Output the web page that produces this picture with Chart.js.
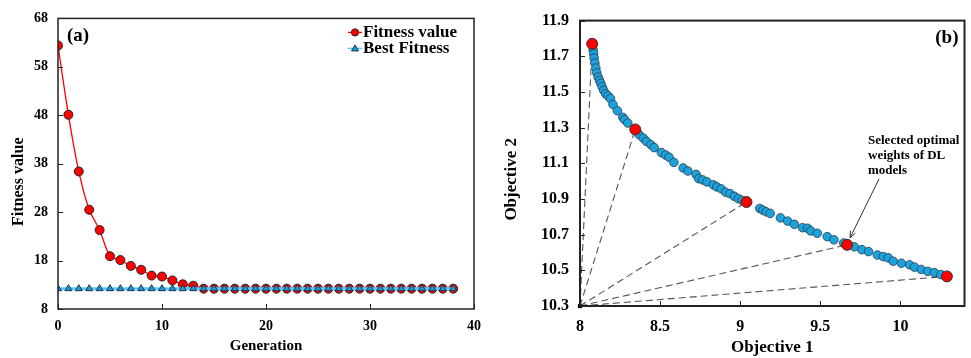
<!DOCTYPE html>
<html><head><meta charset="utf-8">
<script src="https://cdn.jsdelivr.net/npm/chart.js@4/dist/chart.umd.min.js"></script>
<style>
html,body{margin:0;padding:0;background:#fff;}
#wrap{position:relative;width:971px;height:358px;overflow:hidden;background:#fff;}
#c1{position:absolute;left:0;top:0;}
#c2{position:absolute;left:490px;top:0;}
</style></head><body>
<div id="wrap">
<canvas id="c1" width="490" height="358"></canvas>
<canvas id="c2" width="481" height="358"></canvas>
</div>
<script>
// ---------- Panel (a) data ----------
const generations = [0,1,2,3,4,5,6,7,8,9,10,11,12,13,14,15,16,17,18,19,20,21,22,23,24,25,26,27,28,29,30,31,32,33,34,35,36,37,38];
const fitnessValue = [62.4,48.1,36.4,28.5,24.3,18.9,18.1,16.9,16.1,14.9,14.7,13.9,13.1,12.8,12.2,12.2,12.2,12.2,12.2,12.2,12.2,12.2,12.2,12.2,12.2,12.2,12.2,12.2,12.2,12.2,12.2,12.2,12.2,12.2,12.2,12.2,12.2,12.2,12.2];
const bestFitness = [12.2,12.2,12.2,12.2,12.2,12.2,12.2,12.2,12.2,12.2,12.2,12.2,12.2,12.2,12.2,12.2,12.2,12.2,12.2,12.2,12.2,12.2,12.2,12.2,12.2,12.2,12.2,12.2,12.2,12.2,12.2,12.2,12.2,12.2,12.2,12.2,12.2,12.2,12.2];
const genTicks = [0,10,20,30,40];
const fitTicks = [8,18,28,38,48,58,68];

// ---------- Panel (b) data ----------
const paretoObj1 = [8.082,8.085,8.088,8.093,8.099,8.105,8.113,8.122,8.130,8.138,8.148,8.160,8.175,8.190,8.206,8.233,8.267,8.278,8.298,
  8.370,8.395,8.415,8.443,8.463,8.508,8.535,8.556,8.586,8.644,8.673,8.724,8.741,8.765,8.792,8.833,8.854,8.881,8.909,8.936,8.963,8.988,9.012,
  9.122,9.142,9.162,9.187,9.251,9.296,9.338,9.389,9.420,9.440,9.481,9.543,9.585,9.646,
  9.712,9.759,9.801,9.856,9.893,9.924,9.955,10.006,10.057,10.088,10.130,10.171,10.212,10.253];
const paretoObj2 = [11.736,11.714,11.690,11.662,11.634,11.607,11.583,11.564,11.548,11.529,11.509,11.490,11.478,11.463,11.430,11.395,11.358,11.345,11.326,
  11.260,11.241,11.223,11.204,11.188,11.160,11.146,11.134,11.105,11.074,11.057,11.038,11.014,11.007,10.996,10.979,10.968,10.957,10.938,10.930,10.915,10.902,10.892,
  10.847,10.837,10.828,10.819,10.794,10.776,10.758,10.739,10.736,10.721,10.708,10.689,10.671,10.653,
  10.632,10.616,10.605,10.586,10.577,10.570,10.551,10.540,10.531,10.518,10.505,10.494,10.487,10.476];
const selectedObj1 = [8.076,8.345,9.039,9.667,10.290];
const selectedObj2 = [11.770,11.290,10.883,10.643,10.466];
const idealPoint = {x: 8, y: 10.3};
const obj1Ticks = [8,8.5,9,9.5,10];
const obj2Ticks = [10.3,10.5,10.7,10.9,11.1,11.3,11.5,11.7,11.9];
const annotationLines = ['Selected optimal','weights of DL','models'];

const SERIF = "'Liberation Serif','Times New Roman',serif";

// ---------- Plugins ----------
const framePlugin = {
  id: 'frame',
  afterDraw(chart, args, o) {
    const {ctx, chartArea: a, scales} = chart;
    ctx.save();
    ctx.strokeStyle = o.color; ctx.lineWidth = o.width;
    ctx.strokeRect(a.left, a.top, a.right - a.left, a.bottom - a.top);
    ctx.lineWidth = 1;
    ctx.strokeStyle = o.tickColor;
    scales.x.ticks.forEach(t => {
      const px = Math.round(scales.x.getPixelForValue(t.value)) + 0.5;
      ctx.beginPath(); ctx.moveTo(px, a.bottom); ctx.lineTo(px, a.bottom - o.tick); ctx.stroke();
    });
    scales.y.ticks.forEach(t => {
      const py = Math.round(scales.y.getPixelForValue(t.value)) + 0.5;
      ctx.beginPath(); ctx.moveTo(a.left, py); ctx.lineTo(a.left + o.tick, py); ctx.stroke();
    });
    ctx.restore();
  }
};

const panelLabel = {
  id: 'panelLabel',
  afterDraw(chart, args, o) {
    const {ctx, chartArea: a} = chart;
    ctx.save();
    ctx.font = 'bold 19px ' + SERIF;
    ctx.fillStyle = '#000';
    ctx.textBaseline = 'middle';
    if (o.align === 'right') { ctx.textAlign = 'right'; ctx.fillText(o.text, a.right - o.dx, a.top + o.dy); }
    else { ctx.textAlign = 'left'; ctx.fillText(o.text, a.left + o.dx, a.top + o.dy); }
    ctx.restore();
  }
};

// vertical axis title placed where the reference has it
const yTitle = {
  id: 'yTitle',
  afterDraw(chart, args, o) {
    const {ctx, chartArea: a} = chart;
    ctx.save();
    ctx.font = 'bold ' + o.size + 'px ' + SERIF;
    ctx.fillStyle = '#000';
    ctx.textAlign = 'center'; ctx.textBaseline = 'middle';
    ctx.translate(o.x, (a.top + a.bottom) / 2 + o.shift);
    ctx.rotate(-Math.PI / 2);
    ctx.fillText(o.text, 0, 0);
    ctx.restore();
  }
};

const lineLegend = {
  id: 'lineLegend',
  afterDraw(chart, args, o) {
    if (!o.enabled) return;
    const {ctx, chartArea: a} = chart;
    ctx.save();
    ctx.font = 'bold 17px ' + SERIF;
    ctx.textBaseline = 'middle';
    chart.data.datasets.forEach((ds, i) => {
      const y = a.top + o.top + i * o.rowH;
      const x0 = a.right - o.right;
      ctx.strokeStyle = ds.borderColor; ctx.lineWidth = Math.min(ds.borderWidth, 1.5);
      ctx.beginPath(); ctx.moveTo(x0, y); ctx.lineTo(x0 + 14, y); ctx.stroke();
      ctx.fillStyle = ds.pointBackgroundColor; ctx.strokeStyle = ds.pointBorderColor; ctx.lineWidth = 1;
      ctx.beginPath();
      if (ds.pointStyle === 'triangle') {
        ctx.moveTo(x0 + 7, y - 3.5); ctx.lineTo(x0 + 10.5, y + 2.5); ctx.lineTo(x0 + 3.5, y + 2.5); ctx.closePath();
      } else {
        ctx.arc(x0 + 7, y, 3.6, 0, Math.PI * 2);
      }
      ctx.fill(); ctx.stroke();
      ctx.fillStyle = '#000'; ctx.textAlign = 'left';
      ctx.fillText(ds.label, x0 + 15, y);
    });
    ctx.restore();
  }
};

const arrowNote = {
  id: 'arrowNote',
  afterDraw(chart, args, o) {
    if (!o.enabled) return;
    const {ctx, chartArea: a, scales} = chart;
    const px = scales.x.getPixelForValue(selectedObj1[3]);
    const py = scales.y.getPixelForValue(selectedObj2[3]);
    const tip = {x: px + 3, y: py - 7}, tail = {x: px + 32, y: py - 66};
    ctx.save();
    ctx.strokeStyle = '#333'; ctx.lineWidth = 1;
    ctx.beginPath(); ctx.moveTo(tail.x, tail.y); ctx.lineTo(tip.x, tip.y); ctx.stroke();
    const ang = Math.atan2(tip.y - tail.y, tip.x - tail.x);
    ctx.beginPath();
    ctx.moveTo(tip.x - 7 * Math.cos(ang - 0.4), tip.y - 7 * Math.sin(ang - 0.4));
    ctx.lineTo(tip.x, tip.y);
    ctx.lineTo(tip.x - 7 * Math.cos(ang + 0.4), tip.y - 7 * Math.sin(ang + 0.4));
    ctx.stroke();
    ctx.font = 'bold 13px ' + SERIF;
    ctx.fillStyle = '#000'; ctx.textAlign = 'left'; ctx.textBaseline = 'middle';
    annotationLines.forEach((t, i) => ctx.fillText(t, a.left + 288, a.top + 120 + i * 15));
    ctx.restore();
  }
};

Chart.register(framePlugin, panelLabel, yTitle, lineLegend, arrowNote);

function axisFont(size) { return {family: SERIF, size: size, weight: 'bold'}; }
function fmt(v) { return String(+Number(v).toFixed(2)); }

// ---------- Chart (a) ----------
new Chart(document.getElementById('c1'), {
  type: 'line',
  data: {
    datasets: [
      {label: 'Fitness value', data: generations.map((g, i) => ({x: g, y: fitnessValue[i]})),
       borderColor: '#FF0000', borderWidth: 1.3, tension: 0.25, pointRadius: 4.5, pointStyle: 'circle',
       pointBackgroundColor: '#FF0000', pointBorderColor: '#222', pointBorderWidth: 1, order: 1},
      {label: 'Best Fitness', data: generations.map((g, i) => ({x: g, y: bestFitness[i]})),
       borderColor: '#5CC6F2', borderWidth: 3, pointRadius: 4, pointStyle: 'triangle',
       pointBackgroundColor: '#1E9BD7', pointBorderColor: '#1d3550', pointBorderWidth: 1, order: 0}
    ]
  },
  options: {
    responsive: false, animation: false, events: [],
    layout: {padding: {top: 16, right: 12, bottom: 0, left: 0}},
    scales: {
      x: {type: 'linear', min: 0, max: 40,
          afterBuildTicks: s => { s.ticks = genTicks.map(v => ({value: v})); },
          afterFit: s => { s.height = 49; },
          grid: {display: false, drawTicks: false}, border: {display: false},
          ticks: {font: axisFont(14), color: '#000', padding: 9, callback: fmt, maxRotation: 0},
          title: {display: true, text: 'Generation', font: axisFont(15), color: '#000', padding: {top: 0, bottom: 3}}},
      y: {type: 'linear', min: 8, max: 68,
          afterBuildTicks: s => { s.ticks = fitTicks.map(v => ({value: v})); },
          afterFit: s => { s.width = 58; },
          grid: {display: false, drawTicks: false}, border: {display: false},
          ticks: {font: axisFont(14), color: '#000', padding: 10, callback: fmt},
          title: {display: false}}
    },
    plugins: {
      legend: {display: false}, tooltip: {enabled: false},
      frame: {color: '#222', width: 1.5, tickColor: '#222', tick: 5},
      panelLabel: {text: '(a)', align: 'left', dx: 9, dy: 18},
      yTitle: {text: 'Fitness value', size: 16, x: 19, shift: 18},
      lineLegend: {enabled: true, right: 126, top: 14, rowH: 16},
      arrowNote: {enabled: false}
    }
  }
});

// ---------- Chart (b) ----------
const dashDatasets = selectedObj1.map((x, i) => ({
  label: 'link' + i, data: [idealPoint, {x: x, y: selectedObj2[i]}], showLine: true,
  borderColor: '#555', borderWidth: 1.1, borderDash: [7, 4], pointRadius: 0, order: 2
}));

new Chart(document.getElementById('c2'), {
  type: 'scatter',
  data: {
    datasets: [
      {label: 'Selected', data: selectedObj1.map((x, i) => ({x: x, y: selectedObj2[i]})),
       pointRadius: 5.5, backgroundColor: '#FF0000', borderColor: '#333', borderWidth: 1, order: 0},
      {label: 'Pareto front', data: paretoObj1.map((x, i) => ({x: x, y: paretoObj2[i]})),
       pointRadius: 4.3, backgroundColor: '#1CA3DE', borderColor: '#2a3b4a', borderWidth: 0.8, order: 1},
      ...dashDatasets,
      {label: 'Ideal', data: [idealPoint], pointStyle: 'rect', pointRadius: 3, backgroundColor: '#000',
       borderColor: '#000', borderWidth: 0, clip: false, order: 3}
    ]
  },
  options: {
    responsive: false, animation: false, events: [],
    layout: {padding: {top: 17, right: 2, bottom: 0, left: 0}},
    scales: {
      x: {type: 'linear', min: 8, max: 10.4,
          afterBuildTicks: s => { s.ticks = obj1Ticks.map(v => ({value: v})); },
          afterFit: s => { s.height = 52; },
          grid: {display: false, drawTicks: false}, border: {display: false},
          ticks: {font: axisFont(16), color: '#000', padding: 11, callback: fmt, maxRotation: 0},
          title: {display: true, text: 'Objective 1', font: axisFont(17), color: '#000', padding: {top: 0, bottom: 0}}},
      y: {type: 'linear', min: 10.3, max: 11.9,
          afterBuildTicks: s => { s.ticks = obj2Ticks.map(v => ({value: v})); },
          afterFit: s => { s.width = 90; },
          grid: {display: false, drawTicks: false}, border: {display: false},
          ticks: {font: axisFont(16), color: '#000', padding: 11, callback: fmt},
          title: {display: false}}
    },
    plugins: {
      legend: {display: false}, tooltip: {enabled: false},
      frame: {color: '#222', width: 2, tickColor: '#222', tick: 5},
      panelLabel: {text: '(b)', align: 'right', dx: 6, dy: 17},
      yTitle: {text: 'Objective 2', size: 17, x: 22, shift: 16},
      lineLegend: {enabled: false},
      arrowNote: {enabled: true}
    }
  }
});
</script>
</body></html>
